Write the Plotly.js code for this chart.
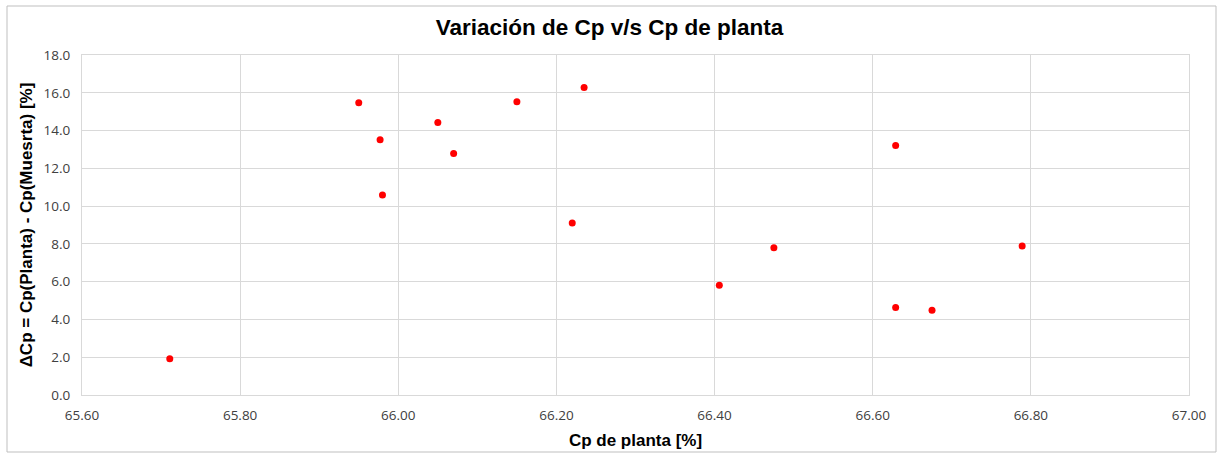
<!DOCTYPE html>
<html>
<head>
<meta charset="utf-8">
<script src="https://cdn.plot.ly/plotly-3.0.1.min.js"></script>
<style>
html,body{margin:0;padding:0;background:#fff;}
#chart{width:1219px;height:453px;}
</style>
</head>
<body>
<div id="chart"></div>
<script>
const cpPlanta = [65.711, 65.950, 65.977, 65.980, 66.050, 66.070, 66.150, 66.235, 66.220, 66.406, 66.475, 66.629, 66.629, 66.675, 66.789];
const deltaCp  = [1.92, 15.47, 13.51, 10.59, 14.43, 12.79, 15.52, 16.28, 9.11, 5.81, 7.79, 13.21, 4.63, 4.49, 7.89];
const xTicks = [65.6, 65.8, 66.0, 66.2, 66.4, 66.6, 66.8, 67.0];
const yTicks = [0, 2, 4, 6, 8, 10, 12, 14, 16, 18];

const L = 82, R = 30, T = 55, B = 58, W = 1219, H = 453;
const pw = W - L - R, ph = H - T - B;
function px(x){ return (x - L) / pw; }
function py(y){ return (H - B - y) / ph; }

const trace = {
  x: cpPlanta, y: deltaCp, type: 'scatter', mode: 'markers',
  marker: {color: '#FF0000', size: 7},
  hoverinfo: 'x+y'
};
const layout = {
  width: W, height: H,
  margin: {l: L, r: R, t: T, b: B},
  paper_bgcolor: '#ffffff', plot_bgcolor: '#ffffff',
  showlegend: false,
  title: {text: 'Variación de Cp v/s Cp de planta', x: 0.5, xanchor: 'center', y: 0.94, yanchor: 'middle',
          font: {family: 'Liberation Sans, Arial, sans-serif', size: 22.5, color: '#000000', weight: 'bold'}},
  xaxis: {
    range: [65.6, 67.0], tickvals: xTicks, ticktext: xTicks.map(v => v.toFixed(2)),
    showgrid: true, gridcolor: '#d9d9d9', gridwidth: 1,
    showline: true, linecolor: '#d9d9d9', mirror: true, zeroline: false, ticks: '',
    ticklabelstandoff: 8,
    tickfont: {family: 'Open Sans, sans-serif', size: 13.5, color: '#404040'},
    title: {text: 'Cp de planta [%]', standoff: 10, font: {family: 'Liberation Sans, Arial, sans-serif', size: 17, color: '#000', weight: 'bold'}}
  },
  yaxis: {
    range: [0, 18], tickvals: yTicks, ticktext: yTicks.map(v => v.toFixed(1)),
    showgrid: true, gridcolor: '#d9d9d9', gridwidth: 1,
    showline: true, linecolor: '#d9d9d9', mirror: true, zeroline: false, ticks: '',
    ticklabelstandoff: 8,
    tickfont: {family: 'Open Sans, sans-serif', size: 13.5, color: '#404040'},
    title: {text: 'ΔCp = Cp(Planta) - Cp(Muesrta) [%]', standoff: 6, font: {family: 'Liberation Sans, Arial, sans-serif', size: 17, color: '#000', weight: 'bold'}}
  },
  shapes: [{
    type: 'rect', xref: 'paper', yref: 'paper',
    x0: px(7), x1: px(1216), y0: py(6), y1: py(452),
    line: {color: '#bfbfbf', width: 1}, fillcolor: 'rgba(0,0,0,0)', layer: 'below'
  }]
};
Plotly.newPlot('chart', [trace], layout, {displayModeBar: false, staticPlot: true});
</script>
</body>
</html>
